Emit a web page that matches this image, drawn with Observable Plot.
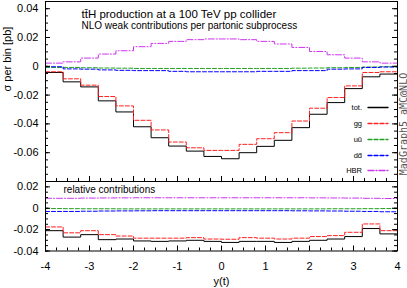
<!DOCTYPE html>
<html><head><meta charset="utf-8">
<script src="https://cdn.jsdelivr.net/npm/d3@7"></script>
<script src="https://cdn.jsdelivr.net/npm/@observablehq/plot@0.6"></script>
<style>
body{margin:0;background:#fff}
#c{position:relative;width:407px;height:288px;font-family:"Liberation Sans",Arial,sans-serif}
#c svg{position:absolute;left:0;top:0}
</style>
</head><body><div id="c"></div><script>
// ---- data ----
const binEdges = [-4,-3.6,-3.2,-2.8,-2.4,-2,-1.6,-1.2,-0.8,-0.4,0,0.4,0.8,1.2,1.6,2,2.4,2.8,3.2,3.6,4];
const tot = [-0.0043,-0.0108,-0.0143,-0.024,-0.0317,-0.042,-0.0496,-0.0554,-0.0589,-0.0626,-0.0642,-0.060,-0.0556,-0.0514,-0.0426,-0.0333,-0.0252,-0.0155,-0.0073,-0.0054];
const gg  = [-0.0038,-0.0087,-0.0131,-0.021,-0.0275,-0.0375,-0.0442,-0.0526,-0.0566,-0.0584,-0.0584,-0.0542,-0.0503,-0.0461,-0.038,-0.0291,-0.0217,-0.0136,-0.0043,-0.0038];
const uu  = [-0.0008,-0.0008,-0.001,-0.0012,-0.0013,-0.0015,-0.0015,-0.0015,-0.0015,-0.0015,-0.0015,-0.0015,-0.0015,-0.0015,-0.0013,-0.0012,-0.001,-0.0008,-0.0005,-0.0003];
const dd  = [-0.0003,-0.0018,-0.002,-0.0025,-0.0028,-0.003,-0.003,-0.0035,-0.0038,-0.0038,-0.0038,-0.0038,-0.0035,-0.0035,-0.003,-0.003,-0.002,-0.0018,-0.0008,-0.0005];
const hbr = [0.0022,0.0031,0.0057,0.0085,0.0108,0.0136,0.0159,0.0173,0.0185,0.019,0.019,0.0185,0.0173,0.0155,0.0131,0.0103,0.008,0.0057,0.0031,0.0022];

const relTot = [-0.021,-0.027,-0.0247,-0.0294,-0.0288,-0.0306,-0.031,-0.0306,-0.030,-0.031,-0.032,-0.031,-0.031,-0.032,-0.031,-0.030,-0.0288,-0.0265,-0.019,-0.024];
const relGG  = [-0.0175,-0.023,-0.021,-0.0247,-0.026,-0.028,-0.028,-0.028,-0.0275,-0.0288,-0.029,-0.0275,-0.028,-0.0288,-0.028,-0.0265,-0.0256,-0.0225,-0.0147,-0.021];
const relUU  = [-0.0003,-0.0004,-0.0005,-0.0005,-0.0006,-0.0006,-0.0006,-0.0006,-0.0006,-0.0006,-0.0006,-0.0006,-0.0006,-0.0006,-0.0006,-0.0006,-0.0005,-0.0005,-0.0004,-0.0003];
const relDD  = [-0.003,-0.003,-0.0028,-0.0026,-0.0025,-0.0024,-0.0023,-0.0023,-0.0023,-0.0023,-0.0023,-0.0023,-0.0023,-0.0023,-0.0024,-0.0025,-0.0026,-0.0028,-0.003,-0.0033];
const relHBR = [0.0093,0.0093,0.0095,0.0096,0.0097,0.0098,0.0098,0.0098,0.0098,0.0098,0.0098,0.0098,0.0098,0.0098,0.0098,0.0097,0.0096,0.0095,0.0093,0.0091];

const seriesNames = ["tot.", "gg", "u\u016B", "d\u0064\u0304", "HBR"];
const xTickLabels = [-4,-3,-2,-1,0,1,2,3,4];
const yTickLabelsTop = [-0.06,-0.04,-0.02,0,0.02,0.04];
const yMajorTop = [-0.08,-0.06,-0.04,-0.02,0,0.02,0.04];
const yTickLabelsBot = [-0.04,-0.02,0,0.02];
const yMajorBot = [-0.04,-0.02,0,0.02];
const titleText = "tt\u0304H production at a 100 TeV pp collider";
const subtitleText = "NLO weak contributions per partonic subprocess";
const relText = "relative contributions";
const yLabel = "\u03C3 per bin [pb]";
const xLabel = "y(t)";
const credit = "MadGraph5_aMC@NLO";

// ---- styles ----
const colors = ["#000000", "#ff2020", "#20a020", "#0000ff", "#cc33ee"];
const dashes = ["none", "4,2", "4,2", "4,2", "6,2,1,2"];
const W = 407, ML = 45, MR = 10;
const FW = W - ML - MR;
const font = '"Liberation Sans", Arial, sans-serif';

function steps(vals){ return binEdges.map((x,i)=>({x, y: vals[Math.min(i, vals.length-1)]})); }
const fmt = d => String(d);
const xMinor = d3.range(-4, 4.001, 0.25);

function lineMarks(list){
  return list.map((v,i)=>Plot.line(steps(v), {x:"x", y:"y", curve:"step-after", stroke: colors[i], strokeWidth: 1, strokeDasharray: dashes[i] === "none" ? undefined : dashes[i]}));
}
function tickMarks(yMajor, yMinor, FH){
  return [
    Plot.tickY(yMajor, {y: d=>d, insetRight: FW-5, stroke:"black"}),
    Plot.tickY(yMajor, {y: d=>d, insetLeft: FW-5, stroke:"black"}),
    Plot.tickY(yMinor, {y: d=>d, insetRight: FW-3, stroke:"black"}),
    Plot.tickY(yMinor, {y: d=>d, insetLeft: FW-3, stroke:"black"}),
    Plot.tickX(xTickLabels, {x: d=>d, insetTop: FH-5, stroke:"black"}),
    Plot.tickX(xMinor, {x: d=>d, insetTop: FH-3, stroke:"black"})
  ];
}

const host = document.getElementById("c");

// top panel
const topTop = 1, topBot = 181;
const topPlot = Plot.plot({
  width: W, height: 288, marginLeft: ML, marginRight: MR, marginTop: topTop, marginBottom: 288-topBot,
  x: {domain: [-4,4], axis: null},
  y: {domain: [-0.08, 0.045], axis: null},
  style: {background: "transparent", fontFamily: font, overflow: "visible"},
  marks: [
    ...lineMarks([tot, gg, uu, dd, hbr]),
    ...tickMarks(yMajorTop, d3.range(-0.08, 0.0451, 0.005), topBot-topTop),
    Plot.frame({stroke:"black", strokeWidth: 1}),
    Plot.text(yTickLabelsTop, {y: d=>d, text: fmt, frameAnchor:"left", dx:-7, textAnchor:"end", fontSize: 11}),
    Plot.text([titleText], {text: d=>d, frameAnchor:"top-left", dx: 36, dy: 13, textAnchor:"start", lineAnchor:"middle", fontSize: 11.5}),
    Plot.text([subtitleText], {text: d=>d, frameAnchor:"top-left", dx: 36, dy: 24.5, textAnchor:"start", lineAnchor:"middle", fontSize: 10}),
    Plot.text([yLabel], {text: d=>d, frameAnchor:"left", dx: -38, rotate: -90, fontSize: 11})
  ]
});
host.appendChild(topPlot);

// bottom panel
const botTop = 181, botBot = 250.5;
const botPlot = Plot.plot({
  width: W, height: 288, marginLeft: ML, marginRight: MR, marginTop: botTop, marginBottom: 288-botBot,
  x: {domain: [-4,4], axis: null},
  y: {domain: [-0.04, 0.025], axis: null},
  style: {background: "transparent", fontFamily: font, overflow: "visible"},
  marks: [
    ...lineMarks([relTot, relGG, relUU, relDD, relHBR]),
    ...tickMarks(yMajorBot, d3.range(-0.04, 0.0251, 0.005), botBot-botTop),
    Plot.frame({stroke:"black", strokeWidth: 1}),
    Plot.text(yTickLabelsBot, {y: d=>d, text: fmt, frameAnchor:"left", dx:-7, textAnchor:"end", fontSize: 11}),
    Plot.text(xTickLabels, {x: d=>d, text: fmt, frameAnchor:"bottom", dy: 15, lineAnchor:"middle", fontSize: 11}),
    Plot.text([xLabel], {text: d=>d, frameAnchor:"bottom", dy: 30, lineAnchor:"middle", fontSize: 11}),
    Plot.text([relText], {text: d=>d, frameAnchor:"top-left", dx: 18, dy: 8, textAnchor:"start", lineAnchor:"middle", fontSize: 10})
  ]
});
host.appendChild(botPlot);

// legend + credit overlay
const legY = [107, 123, 139, 155, 170];
let parts = [];
seriesNames.forEach((n,i)=>{
  parts.push(`<text x="362" y="${legY[i]}" dy="0.35em" text-anchor="end" font-size="7.5" fill="#000">${n}</text>`);
  parts.push(`<path d="M368,${legY[i]+0.5}H388" fill="none" stroke="${colors[i]}" stroke-width="1.3" stroke-linecap="round" stroke-dasharray="${dashes[i]}"/>`);
});
parts.push(`<text transform="translate(403,124) rotate(-90)" text-anchor="middle" dy="0.35em" font-family="'DejaVu Sans Mono', monospace" font-size="10" fill="#555">${credit}</text>`);
const wrap = document.createElement("div");
wrap.innerHTML = `<svg xmlns="http://www.w3.org/2000/svg" width="${W}" height="288" style="font-family:${font.replace(/"/g,"'")}">${parts.join("")}</svg>`;
host.appendChild(wrap.firstChild);
</script></body></html>
